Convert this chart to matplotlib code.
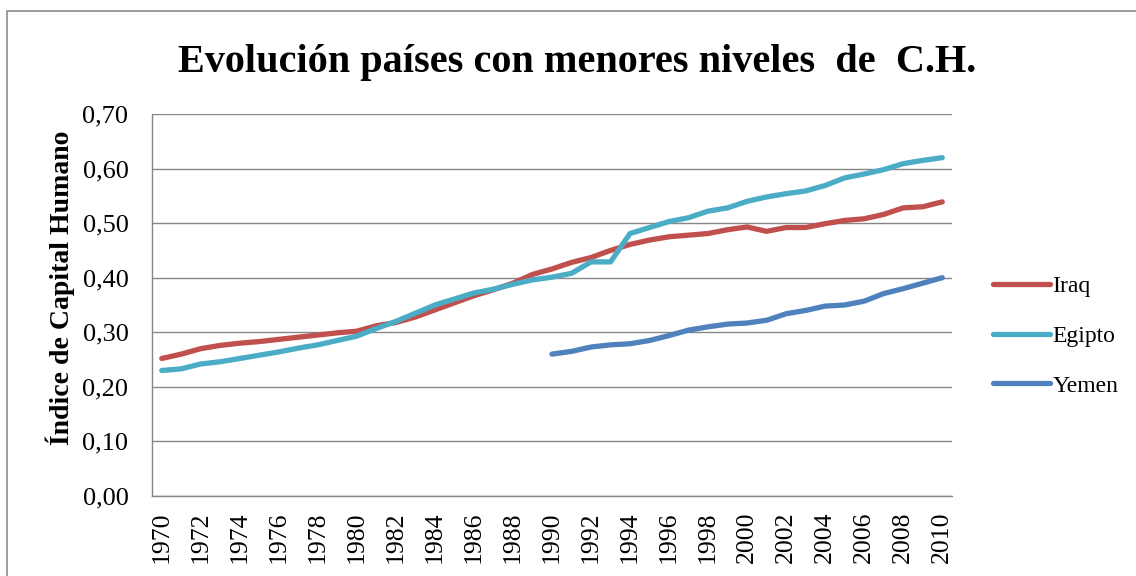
import matplotlib.pyplot as plt
from matplotlib.patches import Rectangle

# ---------------------------
# Data
# ---------------------------
years = list(range(1970, 2011))

iraq = [0.252, 0.260, 0.270, 0.276, 0.280, 0.283, 0.287, 0.291, 0.295, 0.299,
        0.302, 0.312, 0.318, 0.328, 0.341, 0.354, 0.367, 0.378, 0.390, 0.406,
        0.416, 0.428, 0.437, 0.450, 0.461, 0.469, 0.475, 0.478, 0.481, 0.488,
        0.493, 0.485, 0.492, 0.492, 0.499, 0.505, 0.508, 0.516, 0.528, 0.530,
        0.539]

egipto = [0.230, 0.233, 0.242, 0.246, 0.252, 0.258, 0.264, 0.271, 0.277, 0.285,
          0.293, 0.307, 0.320, 0.335, 0.350, 0.361, 0.372, 0.379, 0.388, 0.396,
          0.401, 0.408, 0.429, 0.429, 0.481, 0.492, 0.503, 0.510, 0.522, 0.528,
          0.540, 0.548, 0.554, 0.559, 0.569, 0.583, 0.590, 0.598, 0.609, 0.615,
          0.620]

yemen_years = list(range(1990, 2011))
yemen = [0.260, 0.265, 0.273, 0.277, 0.279, 0.285, 0.294, 0.304, 0.310, 0.315,
         0.317, 0.322, 0.334, 0.340, 0.348, 0.350, 0.357, 0.371, 0.380, 0.390,
         0.400]

y_ticks = [0.0, 0.1, 0.2, 0.3, 0.4, 0.5, 0.6, 0.7]
y_labels = ["0,00", "0,10", "0,20", "0,30", "0,40", "0,50", "0,60", "0,70"]
x_ticks = years[::2]

# ---------------------------
# Plot
# ---------------------------
plt.rcParams['font.family'] = ['Liberation Serif', 'DejaVu Serif']

fig = plt.figure(figsize=(11.36, 5.76), dpi=100)
ax = fig.add_axes([152 / 1136, 1 - 496 / 576, 800 / 1136, 382 / 576])

# chart border
fig.patches.append(Rectangle((7 / 1136, -0.1), 1.2, 1 - 11 / 576 + 0.1,
                             transform=fig.transFigure, fill=False,
                             edgecolor='#8c8c8c', linewidth=1.2))

ax.plot(years, iraq, color='#C0504D', lw=3.8, solid_capstyle='round', label='Iraq')
ax.plot(years, egipto, color='#4BACC6', lw=3.8, solid_capstyle='round', label='Egipto')
ax.plot(yemen_years, yemen, color='#4F81BD', lw=3.8, solid_capstyle='round', label='Yemen')

ax.set_xlim(1969.5, 2010.5)
ax.set_ylim(0, 0.7)
ax.set_yticks(y_ticks)
ax.set_yticklabels(y_labels)
ax.set_xticks(x_ticks)
ax.set_xticklabels([str(y) for y in x_ticks], rotation=90)
ax.tick_params(axis='y', length=0, pad=17, labelsize=19)
ax.tick_params(axis='x', length=0, pad=11, labelsize=18.5)

ax.grid(axis='y', color='#868686', linewidth=1.0)
ax.set_axisbelow(True)
for side in ['top', 'right']:
    ax.spines[side].set_visible(False)
for side in ['left', 'bottom']:
    ax.spines[side].set_color('#868686')
    ax.spines[side].set_linewidth(1.0)

fig.text(577 / 1136, 1 - 72 / 576, "Evolución países con menores niveles  de  C.H.",
         ha='center', va='baseline', fontsize=29, fontweight='bold')
fig.text(60 / 1136, 1 - 288 / 576, "Índice de Capital Humano", rotation=90,
         ha='center', va='center', fontsize=20, fontweight='bold')

fig.legend(loc='center left', bbox_to_anchor=(972 / 1136, 1 - 336 / 576),
           frameon=False, fontsize=17, handlelength=2.4, handletextpad=0.1,
           labelspacing=1.2)

fig.savefig('out.png', dpi=100)
